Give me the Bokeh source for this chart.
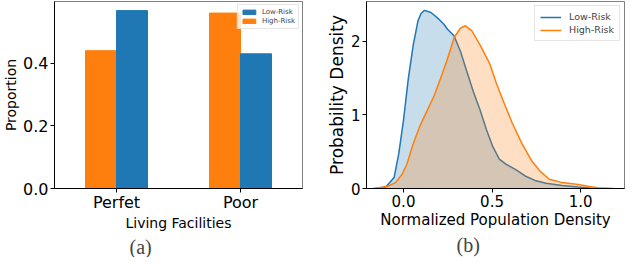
from bokeh.plotting import figure
from bokeh.layouts import row
from bokeh.models import (ColumnDataSource, FactorRange, Range1d, FixedTicker, NumeralTickFormatter,
                          Legend, LegendItem, Title)
from bokeh.transform import dodge
from bokeh.embed import file_html
from bokeh.resources import INLINE

# ---- data: (a) bar chart ----
categories = ["Perfet", "Poor"]
low_risk = [0.568, 0.430]
high_risk = [0.440, 0.560]

# ---- data: (b) density curves ----
low_x = [-0.17, -0.155, -0.10, -0.053, -0.027, 0.0, 0.027, 0.055, 0.082, 0.10, 0.119, 0.155, 0.20, 0.228,
         0.25, 0.286, 0.322, 0.359, 0.395, 0.432, 0.468, 0.505, 0.541, 0.578, 0.632, 0.687,
         0.742, 0.805, 0.896, 0.987, 1.06, 1.10]
low_y = [0.0, 0.003, 0.02, 0.15, 0.47, 0.93, 1.49, 1.95, 2.28, 2.38, 2.42, 2.39, 2.30, 2.23,
         2.16, 2.07, 1.86, 1.58, 1.31, 1.07, 0.80, 0.565, 0.40, 0.33, 0.26, 0.17,
         0.11, 0.07, 0.04, 0.02, 0.005, 0.0]
high_x = [-0.17, -0.137, -0.09, -0.045, -0.009, 0.019, 0.055, 0.091, 0.128, 0.173, 0.219, 0.255,
          0.286, 0.322, 0.350, 0.386, 0.432, 0.486, 0.523, 0.560, 0.614, 0.669, 0.723, 0.769,
          0.823, 0.896, 0.987, 1.042, 1.097, 1.19]
high_y = [0.0, 0.01, 0.03, 0.08, 0.19, 0.33, 0.61, 0.84, 1.03, 1.26, 1.56, 1.81,
          2.05, 2.18, 2.21, 2.14, 1.95, 1.70, 1.44, 1.21, 0.89, 0.61, 0.38, 0.24,
          0.125, 0.08, 0.055, 0.03, 0.01, 0.0]

BLUE = "#1f77b4"
ORANGE = "#ff7f0e"
FONT = "DejaVu Sans"
H = 257


def style(p, tick_size, xlabel_size, ylabel_size):
    p.outline_line_color = "#808080"
    p.xgrid.visible = False
    p.ygrid.visible = False
    for ax in (p.xaxis[0], p.yaxis[0]):
        ax.axis_line_color = "black"
        ax.major_tick_line_color = "black"
        ax.major_tick_out = 4
        ax.major_tick_in = 0
        ax.minor_tick_line_color = None
        ax.major_label_text_font = FONT
        ax.major_label_text_font_size = tick_size
        ax.major_label_text_color = "black"
        ax.axis_label_text_font = FONT
        ax.axis_label_text_font_style = "normal"
        ax.axis_label_text_color = "black"
        ax.major_label_standoff = 2
        ax.axis_label_standoff = 1
    p.xaxis[0].axis_label_text_font_size = xlabel_size
    p.yaxis[0].axis_label_text_font_size = ylabel_size


# ---------- (a) ----------
src_a = ColumnDataSource(dict(cat=categories, low=low_risk, high=high_risk))
pa = figure(width=323, height=H, x_range=FactorRange(*categories, range_padding=0),
            y_range=Range1d(0, 0.597), output_backend="svg", toolbar_location=None,
            min_border_left=5, min_border_right=21, min_border_top=1, min_border_bottom=0)
rh = pa.vbar(x=dodge("cat", -0.125, range=pa.x_range), top="high", width=0.25, source=src_a,
             fill_color=ORANGE, line_color=ORANGE)
rl = pa.vbar(x=dodge("cat", 0.125, range=pa.x_range), top="low", width=0.25, source=src_a,
             fill_color=BLUE, line_color=BLUE)
style(pa, "16px", "14px", "14px")
pa.xaxis[0].major_label_standoff = 0
pa.xaxis[0].axis_label_standoff = 0
pa.yaxis[0].ticker = FixedTicker(ticks=[0.0, 0.2, 0.4])
pa.yaxis[0].formatter = NumeralTickFormatter(format="0.0")
pa.xaxis.axis_label = "Living Facilities"
pa.yaxis.axis_label = "Proportion"
leg_a = Legend(items=[LegendItem(label="Low-Risk", renderers=[rl]),
                      LegendItem(label="High-Risk", renderers=[rh])],
               location="top_right", label_text_font=FONT, label_text_font_size="7px",
               glyph_width=16, glyph_height=6, label_height=8, label_standoff=5,
               padding=3, spacing=1, margin=3, border_line_color="#cccccc",
               background_fill_alpha=0.8)
pa.add_layout(leg_a)
pa.add_layout(Title(text="(a)", align="left", offset=75, text_font="Liberation Serif",
                    text_font_size="20px", text_font_style="normal", standoff=0), "below")

# ---------- (b) ----------
pb = figure(width=303, height=H, x_range=Range1d(-0.209, 1.248), y_range=Range1d(0, 2.54),
            output_backend="svg", toolbar_location=None,
            min_border_left=5, min_border_right=2, min_border_top=1, min_border_bottom=0)
pb.varea(x=low_x, y1=0, y2=low_y, fill_color=BLUE, fill_alpha=0.25)
ll = pb.line(low_x, low_y, line_color=BLUE, line_width=1.5)
pb.varea(x=high_x, y1=0, y2=high_y, fill_color=ORANGE, fill_alpha=0.25)
lh = pb.line(high_x, high_y, line_color=ORANGE, line_width=1.5)
style(pb, "15px", "15px", "17px")
pb.xaxis[0].ticker = FixedTicker(ticks=[0.0, 0.5, 1.0])
pb.xaxis[0].formatter = NumeralTickFormatter(format="0.0")
pb.yaxis[0].ticker = FixedTicker(ticks=[0, 1, 2])
pb.xaxis.axis_label = "Normalized Population Density"
pb.yaxis.axis_label = "Probability Density"
leg_b = Legend(items=[LegendItem(label="Low-Risk", renderers=[ll]),
                      LegendItem(label="High-Risk", renderers=[lh])],
               location="top_right", label_text_font=FONT, label_text_font_size="9.5px",
               glyph_width=21, glyph_height=10, label_height=11, label_standoff=8,
               padding=5, spacing=2, margin=4, border_line_color="#cccccc",
               background_fill_alpha=0.8)
pb.add_layout(leg_b)
pb.add_layout(Title(text="(b)", align="left", offset=90, text_font="Liberation Serif",
                    text_font_size="20px", text_font_style="normal", standoff=0), "below")

layout = row(pa, pb)
open("out.html", "w").write(file_html(layout, INLINE))
